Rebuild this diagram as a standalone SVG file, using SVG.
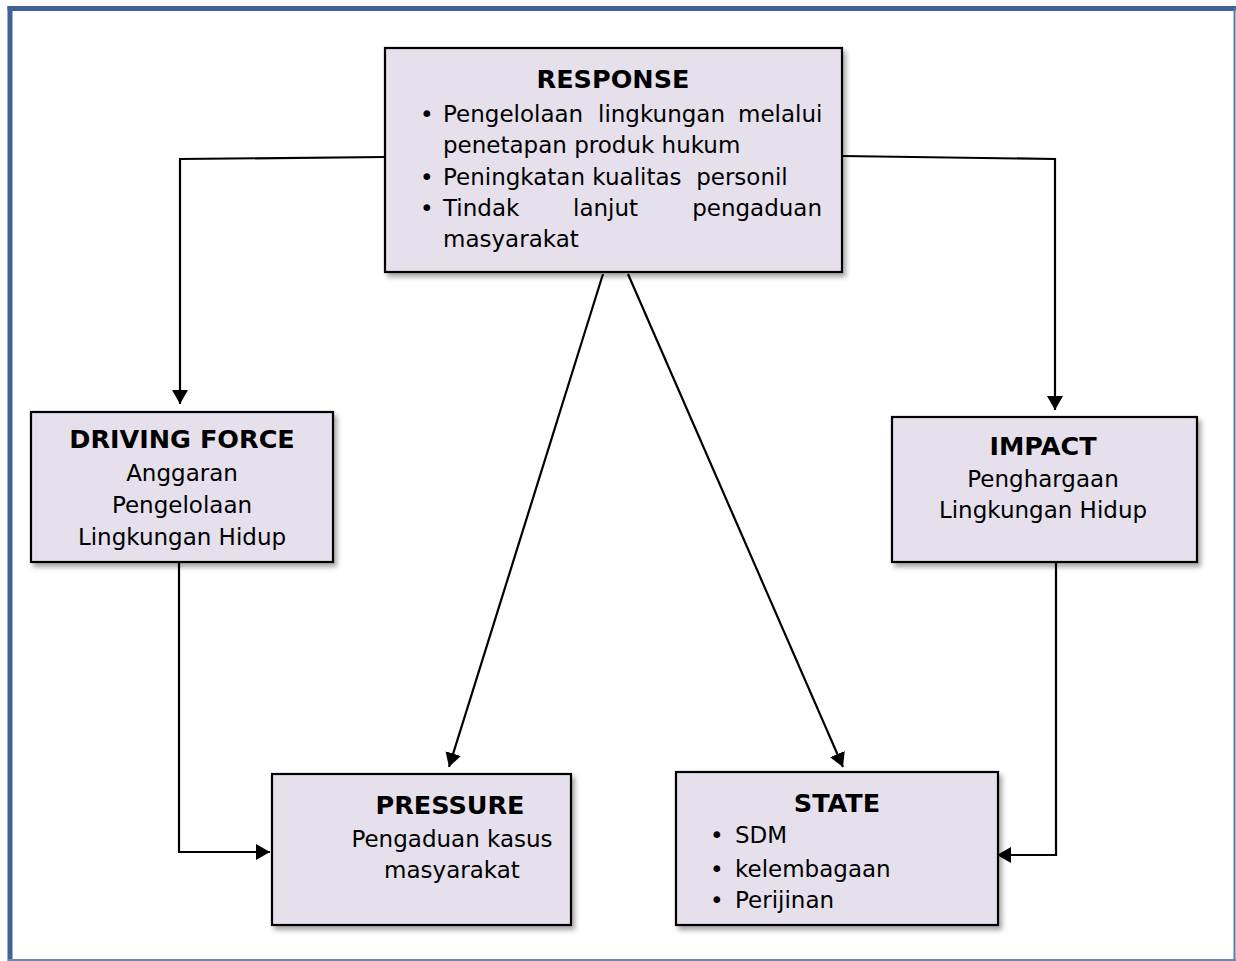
<svg xmlns="http://www.w3.org/2000/svg" width="1236" height="961" viewBox="0 0 1236 961">
<style>
.box{fill:#E5E0EC;stroke:#000;stroke-width:2.2;filter:url(#sh)}
.t{font-family:"DejaVu Sans","Verdana",sans-serif;font-size:23px;fill:#000}
.h{font-family:"DejaVu Sans","Verdana",sans-serif;font-size:25.5px;font-weight:bold;fill:#000}
.c{text-anchor:middle}
.ln{fill:none;stroke:#000;stroke-width:2.2}
</style>
<defs>
<filter id="sh" x="-10%" y="-10%" width="125%" height="130%">
<feDropShadow dx="3" dy="4" stdDeviation="2.5" flood-color="#000" flood-opacity="0.35"/>
</filter>
<marker id="ah" viewBox="0 0 14 16" refX="14" refY="8" markerWidth="14" markerHeight="16" orient="auto" markerUnits="userSpaceOnUse">
<path d="M0,0 L14,8 L0,16 z" fill="#000"/>
</marker>
</defs>
<rect x="0" y="0" width="1236" height="961" fill="#fff"/>
<g id="frame">
<line x1="10" y1="6" x2="10" y2="961" stroke="#3F6394" stroke-width="5"/>
<line x1="7.5" y1="8.5" x2="1236" y2="8.5" stroke="#3F6394" stroke-width="5"/>
<line x1="1234.5" y1="8" x2="1234.5" y2="961" stroke="#5A79A3" stroke-width="2"/>
<line x1="8" y1="960" x2="1236" y2="960" stroke="#6C88AE" stroke-width="2"/>
</g>
<g id="connectors">
<polyline class="ln" points="385,157 180,159 180,404" marker-end="url(#ah)"/>
<polyline class="ln" points="842,156 1055,159 1055,410" marker-end="url(#ah)"/>
<line class="ln" x1="603" y1="274" x2="449" y2="767" marker-end="url(#ah)"/>
<line class="ln" x1="628" y1="274" x2="843" y2="767" marker-end="url(#ah)"/>
<polyline class="ln" points="179,562 179,852 270,852" marker-end="url(#ah)"/>
<polyline class="ln" points="1056,562 1056,855 997,855" marker-end="url(#ah)"/>
</g>
<g id="response">
<rect class="box" x="385" y="48" width="457" height="224"/>
<text class="h c" x="613" y="88">RESPONSE</text>
<text class="t" x="420" y="122">•</text>
<text class="t" y="122"><tspan x="443">Pengelolaan</tspan><tspan x="598">lingkungan</tspan><tspan x="738">melalui</tspan></text>
<text class="t" x="443" y="153">penetapan produk hukum</text>
<text class="t" x="420" y="185">•</text>
<text class="t" x="443" y="185" xml:space="preserve">Peningkatan kualitas  personil</text>
<text class="t" x="420" y="216">•</text>
<text class="t" y="216"><tspan x="443">Tindak</tspan><tspan x="573">lanjut</tspan><tspan x="822" text-anchor="end">pengaduan</tspan></text>
<text class="t" x="443" y="247">masyarakat</text>
</g>
<g id="driving-force">
<rect class="box" x="31" y="412" width="302" height="150"/>
<text class="h c" x="182" y="448">DRIVING FORCE</text>
<text class="t c" x="182" y="481">Anggaran</text>
<text class="t c" x="182" y="513">Pengelolaan</text>
<text class="t c" x="182" y="545">Lingkungan Hidup</text>
</g>
<g id="impact">
<rect class="box" x="892" y="417" width="305" height="145"/>
<text class="h c" x="1043" y="455">IMPACT</text>
<text class="t c" x="1043" y="487">Penghargaan</text>
<text class="t c" x="1043" y="518">Lingkungan Hidup</text>
</g>
<g id="pressure">
<rect class="box" x="272" y="774" width="299" height="151"/>
<text class="h c" x="450" y="814">PRESSURE</text>
<text class="t c" x="452" y="847">Pengaduan kasus</text>
<text class="t c" x="452" y="878">masyarakat</text>
</g>
<g id="state">
<rect class="box" x="676" y="772" width="322" height="153"/>
<text class="h c" x="837" y="812">STATE</text>
<text class="t" x="710" y="843">•</text>
<text class="t" x="735" y="843">SDM</text>
<text class="t" x="710" y="877">•</text>
<text class="t" x="735" y="877">kelembagaan</text>
<text class="t" x="710" y="908">•</text>
<text class="t" x="735" y="908">Perijinan</text>
</g>
</svg>
